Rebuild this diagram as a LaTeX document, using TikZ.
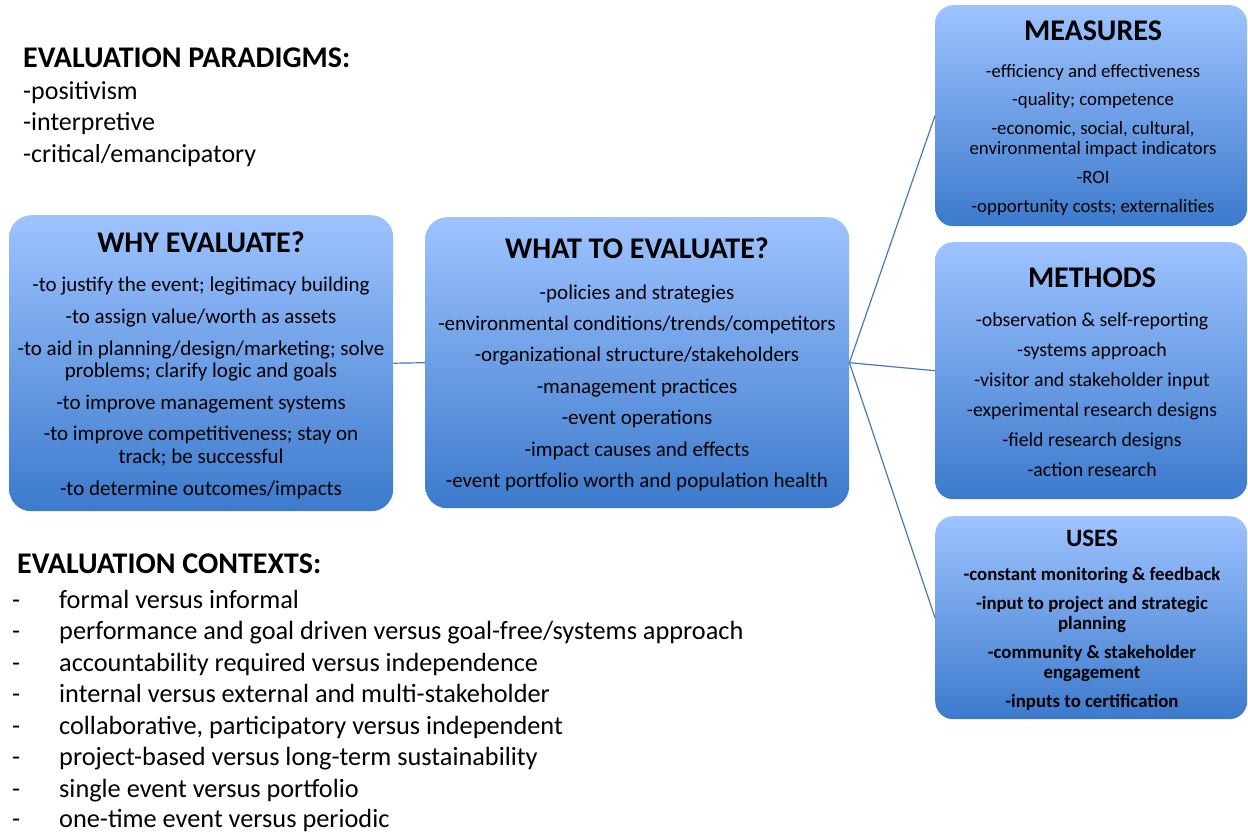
\documentclass[tikz,border=0pt]{standalone}
\usepackage{fontspec}
\setmainfont{Carlito}
\definecolor{boxtop}{RGB}{158,195,255}
\definecolor{boxbot}{RGB}{60,122,204}
\definecolor{linkc}{RGB}{74,120,192}
\newcommand{\fs}[1]{\fontsize{#1}{#1}\selectfont}
\tikzset{
  box/.style={rectangle, rounded corners=#1, top color=boxtop, bottom color=boxbot, draw=none, inner sep=0pt, anchor=north west},
  box/.default=22pt,
  ttl/.style={anchor=base, inner sep=0pt, font=\fs{30}\bfseries},
  itm/.style={anchor=base, inner sep=0pt, font=\fs{#1}},
  bitm/.style={anchor=base, inner sep=0pt, font=\fs{#1}\bfseries},
  lft/.style={anchor=base west, inner sep=0pt, font=\fs{#1}},
  link/.style={draw=linkc, line width=1.2pt},
}
\begin{document}
\begin{tikzpicture}[x=1pt,y=-1pt]
\useasboundingbox (0,0) rectangle (1248,831);
% boxes
\node[box, minimum width=384pt, minimum height=296pt] (why) at (9,215) {};
\node[box, minimum width=424pt, minimum height=291pt] (what) at (425,217) {};
\node[box=18pt, minimum width=312pt, minimum height=221pt] (meas) at (935,5) {};
\node[box=18pt, minimum width=312pt, minimum height=257pt] (meth) at (935,242) {};
\node[box=18pt, minimum width=312pt, minimum height=203pt] (uses) at (935,516) {};
% connectors
\draw[link] (why.east) -- (what.west);
\draw[link] (what.east) -- (meas.west);
\draw[link] (what.east) -- (meth.west);
\draw[link] (what.east) -- (uses.west);
% WHY
\node[ttl] (whyT) at (201,252) {WHY EVALUATE?};
\foreach \y/\t [count=\i] in {291/{-to justify the event; legitimacy building},
  323/{-to assign value/worth as assets},
  355/{-to aid in planning/design/marketing; solve},
  377/{problems; clarify logic and goals},
  409/{-to improve management systems},
  440/{-to improve competitiveness; stay on},
  463/{track; be successful},
  495/{-to determine outcomes/impacts}}
  \node[itm=21] (why\i) at (201,\y) {\t};
% WHAT
\node[ttl] (whatT) at (637,258) {WHAT TO EVALUATE?};
\foreach \y/\t [count=\i] in {299/{-policies and strategies},
  330/{-environmental conditions/trends/competitors},
  361/{-organizational structure/stakeholders},
  393/{-management practices},
  424/{-event operations},
  456/{-impact causes and effects},
  487/{-event portfolio worth and population health}}
  \node[itm=21] (what\i) at (637,\y) {\t};
% MEASURES
\node[ttl] (measT) at (1093,40) {MEASURES};
\foreach \y/\t [count=\i] in {77/{-efficiency and effectiveness},
  105/{-quality; competence},
  134/{-economic, social, cultural,},
  154/{environmental impact indicators},
  183/{-ROI},
  212/{-opportunity costs; externalities}}
  \node[itm=18.8] (meas\i) at (1093,\y) {\t};
% METHODS
\node[ttl] (methT) at (1092,287) {METHODS};
\foreach \y/\t [count=\i] in {326/{-observation \& self-reporting},
  356/{-systems approach},
  386/{-visitor and stakeholder input},
  416/{-experimental research designs},
  446/{-field research designs},
  476/{-action research}}
  \node[itm=19.8] (meth\i) at (1092,\y) {\t};
% USES
\node[ttl, font=\fs{25}\bfseries] (usesT) at (1092,546) {USES};
\foreach \y/\t [count=\i] in {580/{-constant monitoring \& feedback},
  609/{-input to project and strategic},
  629/{planning},
  658/{-community \& stakeholder},
  678/{engagement},
  707/{-inputs to certification}}
  \node[bitm=18.8] (uses\i) at (1092,\y) {\t};
% PARADIGMS
\node[lft=30, font=\fs{30}\bfseries] (parT) at (23,67) {EVALUATION PARADIGMS:};
\foreach \y/\t [count=\i] in {99/{-positivism}, 130/{-interpretive}, 162/{-critical/emancipatory}}
  \node[lft=26] (par\i) at (23,\y) {\t};
% CONTEXTS
\node[lft=30, font=\fs{30}\bfseries] (ctxT) at (17,573) {EVALUATION CONTEXTS:};
\foreach \y/\t [count=\i] in {608/{formal versus informal},
  639/{performance and goal driven versus goal-free/systems approach},
  671/{accountability required versus independence},
  702/{internal versus external and multi-stakeholder},
  734/{collaborative, participatory versus independent},
  765/{project-based versus long-term sustainability},
  797/{single event versus portfolio},
  827/{one-time event versus periodic}}
  {\node[lft=26.3] (ctxd\i) at (12,\y) {-};
   \node[lft=26.3] (ctx\i) at (59,\y) {\t};}
\end{tikzpicture}
\end{document}
